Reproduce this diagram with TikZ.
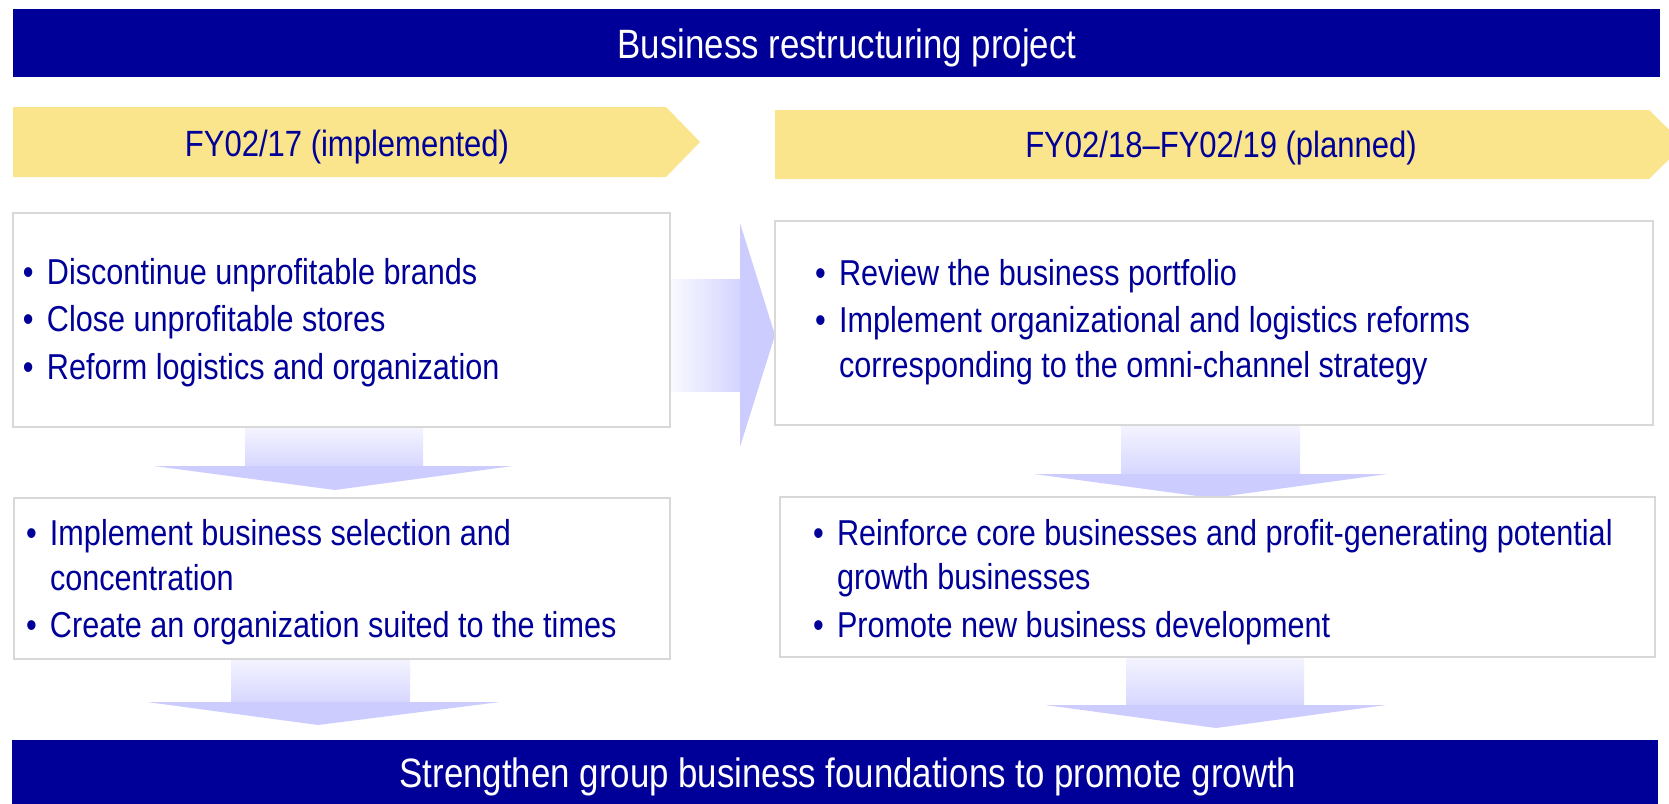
\documentclass[tikz,border=0pt]{standalone}
\usepackage{fontspec}
\setmainfont{Liberation Sans}[FakeStretch=0.85]
\definecolor{navy}{RGB}{0,0,153}
\definecolor{bannery}{RGB}{250,228,140}
\definecolor{lav}{RGB}{204,204,255}
\definecolor{boxline}{RGB}{216,216,216}
\newcommand{\itm}{\makebox[12pt][l]{•}}
\newcommand{\cont}{\hspace*{12pt}}
\newcommand{\natsp}{\spaceskip=0pt\xspaceskip=0pt\relax}
\tikzset{
  bar/.style={fill=navy, draw=none, inner sep=0pt, outer sep=0pt},
  bartext/.style={text=white, inner sep=0pt, font=\fontsize{20.5}{24}\selectfont, text height=14.7pt, text depth=0pt},
  card/.style={draw=boxline, line width=1.2pt, fill=white, inner sep=0pt, outer sep=0pt},
  cardtext/.style={anchor=base west, inner sep=0pt, outer sep=0pt, text=navy, align=left, font=\fontsize{18}{22.25}\selectfont},
  bannertext/.style={text=navy, inner sep=0pt, font=\fontsize{18.25}{22}\selectfont, text height=13.1pt, text depth=0pt},
  shaftv/.style={top color=lav!22, bottom color=lav!80},
  shafth/.style={left color=lav!10, right color=lav!85},
  head/.style={fill=lav},
}
\begin{document}
\begin{tikzpicture}[x=0.5pt, y=-0.5pt]
\clip (0,0) rectangle (1669,803);
\fill[white] (0,0) rectangle (1669,803);

% title bar
\node[bar, minimum width=823.5pt, minimum height=34pt] (top) at (836.5,43) {};
\node[bartext] (toptext) at (847,44) {Business restructuring project};

% banners
\fill[bannery] (13,107) -- (666,107) -- (700,142) -- (666,177) -- (13,177) -- cycle;
\node[bannertext] (ban1) at (347,143.5) {FY02/17 (implemented)};
\fill[bannery] (775,110) -- (1649,110) -- (1684,144.5) -- (1649,179) -- (775,179) -- cycle;
\node[bannertext] (ban2) at (1221,144) {FY02/18–FY02/19 (planned)};

% block arrows
\shade[shafth] (670,279) rectangle (741,391);
\fill[head] (740,223) -- (775,335) -- (740,447) -- cycle;

\shade[shaftv] (245,428) rectangle (423,467);
\fill[head] (154,466) -- (513,466) -- (335,490) -- cycle;
\shade[shaftv] (231,659) rectangle (410,703);
\fill[head] (147,702) -- (500,702) -- (318,725) -- cycle;
\shade[shaftv] (1121,425) rectangle (1300,475);
\fill[head] (1034,474) -- (1387,474) -- (1212,498) -- cycle;
\shade[shaftv] (1126,658) rectangle (1304,706);
\fill[head] (1045,705) -- (1386,705) -- (1216,728) -- cycle;

% boxes
\node[card, minimum width=328.5pt, minimum height=107pt] (b1) at (341.5,320) {};
\node[card, minimum width=439pt, minimum height=102pt] (b2) at (1214,323) {};
\node[card, minimum width=328pt, minimum height=80.5pt] (b3) at (342,578.5) {};
\node[card, minimum width=437.5pt, minimum height=80pt] (b4) at (1217.5,577) {};

\node[cardtext, text width=320pt] (t1) at (23,284) {\natsp
\itm Discontinue unprofitable brands\\[1.5pt]
\itm Close unprofitable stores\\[1.5pt]
\itm Reform logistics and organization};
\node[cardtext, text width=410pt] (t2) at (815,285) {\natsp
\itm Review the business portfolio\\[1.5pt]
\itm Implement organizational and logistics reforms\\
\cont corresponding to the omni-channel strategy};
\node[cardtext, text width=320pt] (t3) at (26,545.5) {\natsp
\itm Implement business selection and\\
\cont concentration\\[1.5pt]
\itm Create an organization suited to the times};
\node[cardtext, text width=415pt] (t4) at (813,545) {\natsp
\itm Reinforce core businesses and profit-generating potential\\
\cont growth businesses\\[1.5pt]
\itm Promote new business development};

% bottom bar
\node[bar, minimum width=823pt, minimum height=33pt] (bottom) at (835,773) {};
\node[bartext] (bottext) at (848,773) {Strengthen group business foundations to promote growth};
\end{tikzpicture}
\end{document}
